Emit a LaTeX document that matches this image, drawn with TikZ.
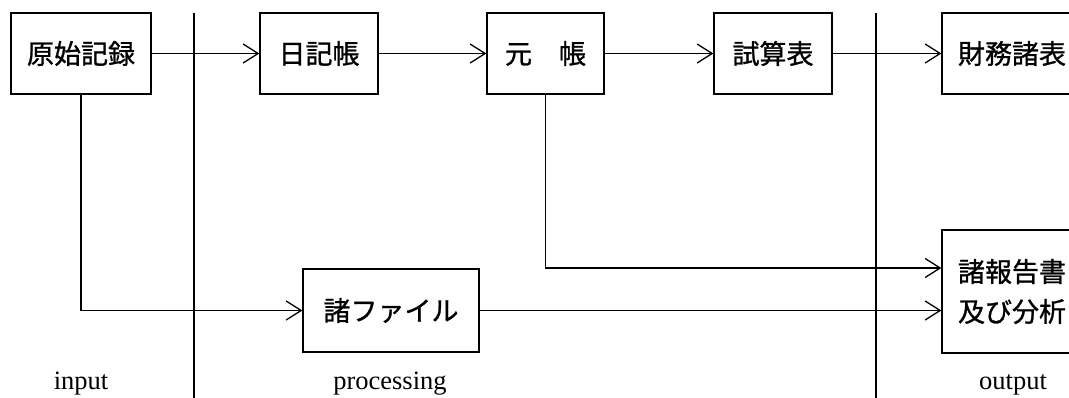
\documentclass[tikz,border=0pt]{standalone}
\usepackage{fontspec}
\setmainfont{Liberation Serif}
\newfontfamily\jpfont[FakeBold=1]{Noto Sans CJK JP}
\usetikzlibrary{arrows.meta}
\begin{document}
\begin{tikzpicture}[x=1pt,y=-1pt,
  box/.style={draw, line width=1.3pt, inner sep=0pt, align=center,
    font=\jpfont\fontsize{27}{40}\selectfont},
  flow/.style={line width=1.3pt, -{Straight Barb[length=15pt,width=19pt]}},
  divider/.style={line width=1.3pt},
  lbl/.style={font=\fontsize{26.5}{30}\selectfont, anchor=base}]
\useasboundingbox (0,0) rectangle (1069,398);
\clip (0,0) rectangle (1069,398);
% boxes
\node[box, minimum width=140pt, minimum height=81pt] (a) at (81,53.5) {原始記録};
\node[box, minimum width=118pt, minimum height=81pt] (b) at (319,53.5) {日記帳};
\node[box, minimum width=117pt, minimum height=81pt] (c) at (545.5,53.5) {元　帳};
\node[box, minimum width=118pt, minimum height=81pt] (d) at (773,53.5) {試算表};
\node[box, minimum width=140pt, minimum height=81pt] (e) at (1012,53.5) {財務諸表};
\node[box, minimum width=176pt, minimum height=83pt] (f) at (391,310.5) {諸ファイル};
\node[box, minimum width=140pt, minimum height=123pt] (g) at (1012,291.5) {諸報告書\\及び分析};
% dividers
\coordinate (d1t) at (194,13);
\coordinate (d1b) at (194,398);
\coordinate (d2t) at (876,13);
\coordinate (d2b) at (876,398);
\draw[divider] (d1t) -- (d1b);
\draw[divider] (d2t) -- (d2b);
% connectors
\draw[flow] (a.east) -- (b.west);
\draw[flow] (b.east) -- (c.west);
\draw[flow] (c.east) -- (d.west);
\draw[flow] (d.east) -- (e.west);
\coordinate (gin1) at ([yshift=23.5pt]g.west);
\draw[flow] (c.south) |- (gin1);
\draw[flow] (a.south) |- (f.west);
\draw[flow] (f.east) -- (f.east -| g.west);
% labels
\node[lbl] (lin) at (81,389) {input};
\node[lbl] (lpr) at (390,389) {processing};
\node[lbl] (lout) at (1013,389) {output};
\end{tikzpicture}
\end{document}
